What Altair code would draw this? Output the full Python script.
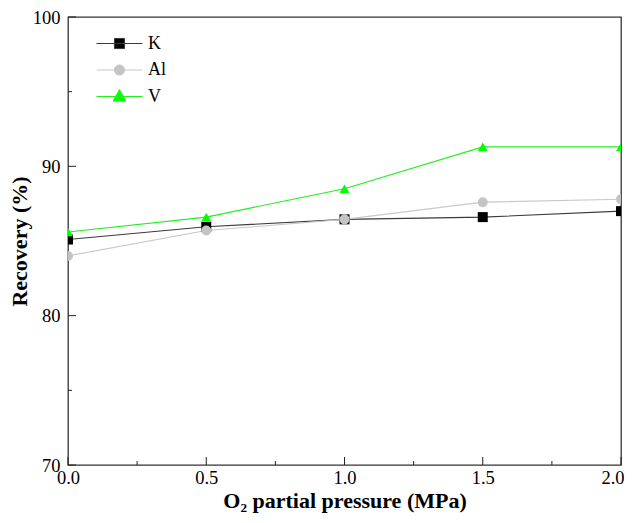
import altair as alt
import pandas as pd

pressure = [0.0, 0.5, 1.0, 1.5, 2.0]
k_vals = [85.1, 85.95, 86.45, 86.6, 87.0]
al_vals = [84.0, 85.7, 86.45, 87.6, 87.8]
v_vals = [85.6, 86.6, 88.5, 91.3, 91.3]

series = ["K", "Al", "V"]
line_colors = ["#3a3a3a", "#c8c8c8", "#22ee22"]
marker_colors = ["#000000", "#c4c4c4", "#00ff00"]
marker_shapes = ["square", "circle", "triangle-up"]
marker_sizes = [100, 100, 150]
legend_paths = [
    "M-1,0H1M-0.22,-0.22H0.22V0.22H-0.22Z",
    "M-1,0H1M0.22,0A0.22,0.22,0,1,1,-0.22,0A0.22,0.22,0,1,1,0.22,0Z",
    "M-1,0H1M0,-0.3L0.28,0.2L-0.28,0.2Z",
]

x_ticks = [0.0, 0.5, 1.0, 1.5, 2.0]
x_minor = [0.25, 0.75, 1.25, 1.75]
y_ticks = [70, 80, 90, 100]
y_minor = [75, 85, 95]

rows = []
for name, vals in zip(series, [k_vals, al_vals, v_vals]):
    for p, v in zip(pressure, vals):
        rows.append({"x": p, "y": v, "series": name})
df = pd.DataFrame(rows)

FONT = "Liberation Serif"
W, H = 553, 448

xscale = alt.Scale(domain=[0, 2], nice=False, zero=False)
yscale = alt.Scale(domain=[70, 100], nice=False, zero=False)
xaxis = alt.Axis(
    values=x_ticks, format=".1f", title="O₂ partial pressure (MPa)",
    labelPadding=3, titlePadding=4, labelFlush=False,
    labelAlign={"condition": {"test": "datum.value >= 2", "value": "right"}, "value": "center"},
    labelOffset={"condition": {"test": "datum.value >= 2", "value": 3}, "value": 0},
)
yaxis = alt.Axis(values=y_ticks, format="d", title="Recovery (%)",
                 labelPadding=8, titlePadding=1, labelFlush=False)


def X(field="x"):
    return alt.X(f"{field}:Q", scale=xscale, axis=xaxis)


def Y(field="y"):
    return alt.Y(f"{field}:Q", scale=yscale, axis=yaxis)


lines = alt.Chart(df).mark_line(strokeWidth=1.1, clip=True).encode(
    x=X(), y=Y(),
    color=alt.Color("series:N", scale=alt.Scale(domain=series, range=line_colors), legend=None),
)

points = alt.Chart(df).mark_point(filled=True, opacity=1, clip=True).encode(
    x=X(), y=Y(),
    color=alt.Color("series:N", scale=alt.Scale(domain=series, range=marker_colors), legend=None),
    shape=alt.Shape("series:N", scale=alt.Scale(domain=series, range=marker_shapes), legend=None),
    size=alt.Size("series:N", scale=alt.Scale(domain=series, range=marker_sizes), legend=None),
)

LEG_SIZE = 2116
legend_layers = []
for i, name in enumerate(series):
    leg = alt.Legend(
        title=None, orient="none", legendX=28, legendY=3 + 26.5 * i, padding=0,
        labelFont=FONT, labelFontSize=18, labelColor="black",
        symbolSize=LEG_SIZE, symbolStrokeWidth=1, labelOffset=5,
        symbolOpacity=1,
    )
    layer = alt.Chart(df).mark_point(
        filled=True, fill=marker_colors[i], strokeWidth=1, opacity=1
    ).encode(
        x=X(), y=Y(),
        shape=alt.Shape("series:N", scale=alt.Scale(domain=[name], range=[legend_paths[i]]), legend=leg),
        stroke=alt.Stroke("series:N", scale=alt.Scale(domain=[name], range=[line_colors[i]]), legend=leg),
        size=alt.value(LEG_SIZE),
    ).transform_filter("false")
    legend_layers.append(layer)

ytick_major = alt.Chart(pd.DataFrame({"y": y_ticks})).mark_rule(color="#222", strokeWidth=1).encode(
    y=Y(), x=alt.value(0), x2=alt.value(8))
ytick_minor = alt.Chart(pd.DataFrame({"y": y_minor})).mark_rule(color="#222", strokeWidth=1).encode(
    y=Y(), x=alt.value(0), x2=alt.value(4))
xtick_major = alt.Chart(pd.DataFrame({"x": x_ticks})).mark_rule(color="#222", strokeWidth=1).encode(
    x=X(), y=alt.value(H), y2=alt.value(H - 8))
xtick_minor = alt.Chart(pd.DataFrame({"x": x_minor})).mark_rule(color="#222", strokeWidth=1).encode(
    x=X(), y=alt.value(H), y2=alt.value(H - 4))

chart = alt.layer(
    ytick_major, ytick_minor, xtick_major, xtick_minor, lines, points, *legend_layers
).resolve_scale(
    color="independent", shape="independent", stroke="independent", size="independent"
).resolve_legend(
    shape="independent", stroke="independent"
).properties(
    width=W, height=H,
    background="white",
    autosize=alt.AutoSizeParams(type="none"),
    padding={"left": 60, "top": 9, "right": 3, "bottom": 50},
).configure_view(
    stroke="#333", strokeWidth=1.3
).configure_axis(
    labelFont=FONT, labelFontSize=18.5, labelColor="black",
    titleFont=FONT, titleFontSize=22, titleFontWeight="bold", titleColor="black",
    ticks=False, domain=False, grid=False,
)

chart.save("out.html", embed_options={"renderer": "svg", "actions": False})
